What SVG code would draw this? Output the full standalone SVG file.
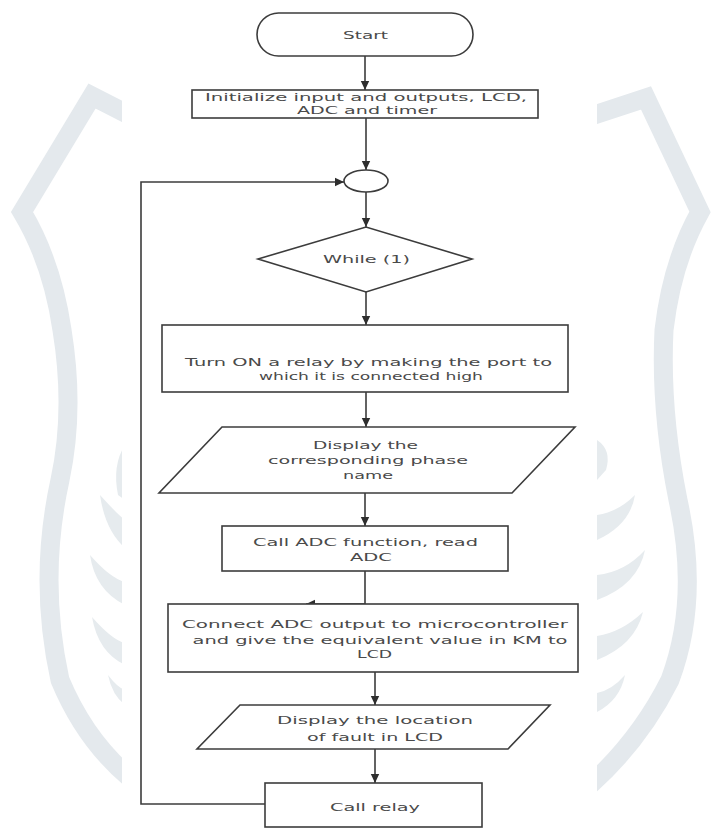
<svg xmlns="http://www.w3.org/2000/svg" width="715" height="829" viewBox="0 0 715 829">
<style>
.wm{fill:none;stroke:#e4e9ed;stroke-width:19;stroke-linejoin:miter}
.leaf{fill:#e6ebee}
.shape{fill:#ffffff;stroke:#3c3c3c;stroke-width:1.6}
.conn{fill:none;stroke:#3c3c3c;stroke-width:1.6}
text{font-family:"DejaVu Sans","Liberation Sans",sans-serif;font-size:11px;fill:#4a4a4a;text-anchor:middle}
</style>
<defs>
<marker id="ah" markerUnits="userSpaceOnUse" markerWidth="10" markerHeight="10" refX="9" refY="5" orient="auto">
<path d="M0,0.8 L9,5 L0,9.2 Z" fill="#2e2e2e"/>
</marker>
</defs>
<rect x="0" y="0" width="715" height="829" fill="#ffffff"/>
<g id="watermark">
<path class="wm" d="M135,118 L92,96 L22,212 Q52,262 62,330 Q75,410 60,480 Q38,580 60,680 Q85,740 130,778"/>
<path class="wm" d="M585,118 L646,98 L700,212 Q672,262 664,330 Q660,410 678,500 Q700,600 670,680 Q640,740 590,785"/>
<path class="leaf" d="M125,445 Q112,465 118,495 L125,500 Z"/>
<path class="leaf" d="M125,548 Q105,530 100,495 Q118,515 125,520 Z"/>
<path class="leaf" d="M125,605 Q95,590 90,555 Q110,578 125,582 Z"/>
<path class="leaf" d="M125,665 Q98,652 92,617 Q112,640 125,643 Z"/>
<path class="leaf" d="M125,705 Q112,695 108,675 Q118,688 125,690 Z"/>
<path class="leaf" d="M597,440 Q612,450 606,470 L597,480 Z"/>
<path class="leaf" d="M597,540 Q630,525 635,495 Q618,512 597,515 Z"/>
<path class="leaf" d="M597,600 Q638,585 645,550 Q625,572 597,575 Z"/>
<path class="leaf" d="M597,660 Q635,645 643,612 Q622,632 597,636 Z"/>
<path class="leaf" d="M597,712 Q620,700 625,675 Q612,690 597,693 Z"/>
</g>
<rect x="122" y="0" width="475" height="829" fill="#ffffff"/>
<g id="connectors">
<line class="conn" x1="365" y1="56" x2="365" y2="90" marker-end="url(#ah)"/>
<line class="conn" x1="366" y1="118" x2="366" y2="170" marker-end="url(#ah)"/>
<line class="conn" x1="366" y1="192" x2="366" y2="227" marker-end="url(#ah)"/>
<line class="conn" x1="366" y1="292" x2="366" y2="325" marker-end="url(#ah)"/>
<line class="conn" x1="366" y1="392" x2="366" y2="427" marker-end="url(#ah)"/>
<line class="conn" x1="365" y1="493" x2="365" y2="526" marker-end="url(#ah)"/>
<polyline class="conn" points="365,571 365,604 306,604" marker-end="url(#ah)"/>
<line class="conn" x1="375" y1="672" x2="375" y2="705" marker-end="url(#ah)"/>
<line class="conn" x1="375" y1="749" x2="375" y2="783" marker-end="url(#ah)"/>
<polyline class="conn" points="265,804 141,804 141,182 344,182" marker-end="url(#ah)"/>
</g>
<g id="start">
<rect class="shape" x="257" y="13" width="216" height="43" rx="21.5"/>
<text x="365.5" y="39" textLength="45" lengthAdjust="spacingAndGlyphs">Start</text>
</g>
<g id="init">
<rect class="shape" x="192" y="90" width="346" height="28"/>
<text x="366" y="101" textLength="322" lengthAdjust="spacingAndGlyphs">Initialize input and outputs, LCD,</text>
<text x="367" y="114" textLength="140" lengthAdjust="spacingAndGlyphs">ADC and timer</text>
</g>
<g id="junction">
<ellipse class="shape" cx="366" cy="181" rx="22" ry="11"/>
</g>
<g id="while">
<polygon class="shape" points="258,259 366,227 472,259 366,292"/>
<text x="366.5" y="263" textLength="87" lengthAdjust="spacingAndGlyphs">While (1)</text>
</g>
<g id="relay-on">
<rect class="shape" x="162" y="325" width="406" height="67"/>
<text x="368.5" y="366" textLength="367" lengthAdjust="spacingAndGlyphs">Turn ON a relay by making the port to</text>
<text x="371" y="380" textLength="224" lengthAdjust="spacingAndGlyphs">which it is connected high</text>
</g>
<g id="display-phase">
<polygon class="shape" points="222,427 575,427 512,493 159,493"/>
<text x="365.5" y="449" textLength="105" lengthAdjust="spacingAndGlyphs">Display the</text>
<text x="368" y="464" textLength="200" lengthAdjust="spacingAndGlyphs">corresponding phase</text>
<text x="368" y="479" textLength="50" lengthAdjust="spacingAndGlyphs">name</text>
</g>
<g id="call-adc">
<rect class="shape" x="222" y="526" width="286" height="45"/>
<text x="365.5" y="546" textLength="225" lengthAdjust="spacingAndGlyphs">Call ADC function, read</text>
<text x="371" y="561" textLength="42" lengthAdjust="spacingAndGlyphs">ADC</text>
</g>
<g id="connect-adc">
<rect class="shape" x="168" y="604" width="410" height="68"/>
<text x="375" y="628" textLength="386" lengthAdjust="spacingAndGlyphs">Connect ADC output to microcontroller</text>
<text x="380" y="644" textLength="375" lengthAdjust="spacingAndGlyphs">and give the equivalent value in KM to</text>
<text x="374.5" y="658" textLength="35" lengthAdjust="spacingAndGlyphs">LCD</text>
</g>
<g id="display-location">
<polygon class="shape" points="240,705 550,705 508,749 197,749"/>
<text x="375" y="724" textLength="196" lengthAdjust="spacingAndGlyphs">Display the location</text>
<text x="375" y="741" textLength="136" lengthAdjust="spacingAndGlyphs">of fault in LCD</text>
</g>
<g id="call-relay">
<rect class="shape" x="265" y="783" width="217" height="44"/>
<text x="375" y="811" textLength="90" lengthAdjust="spacingAndGlyphs">Call relay</text>
</g>
</svg>
